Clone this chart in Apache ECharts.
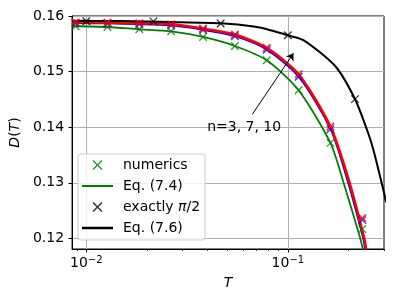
<!DOCTYPE html>
<html><head><meta charset="utf-8">
<script src="https://cdn.jsdelivr.net/npm/echarts@6/dist/echarts.min.js"></script>
<style>html,body{margin:0;padding:0;background:#fff}#c{width:394px;height:304px}</style>
</head><body><div id="c"></div>
<script>
// ---- data ----
const markerT   = [0.00885,0.01274,0.01833,0.02637,0.03795,0.05461,0.07858,0.1131,0.1627,0.2342];
const numGreen  = [0.15815,0.15802,0.15761,0.15725,0.15623,0.15461,0.15204,0.14665,0.13718,0.12167];
const numBlue   = [0.15869,0.15863,0.15851,0.15827,0.15748,0.15635,0.15393,0.14907,0.13964,0.12329];
const numRed    = [0.15887,0.15881,0.15869,0.15851,0.15774,0.15666,0.15425,0.14952,0.14010,0.12365];

const exactT    = [0.01,0.02154,0.04642,0.1,0.2154];
const exactD    = [0.15905,0.15904,0.15866,0.15653,0.14505];

const eqGreenT  = [0.00853,0.01274,0.01833,0.02637,0.03795,0.05461,0.07858,0.1131,0.1627,0.1891,0.2288,0.2359];
const eqGreenD  = [0.15820,0.15802,0.15761,0.15725,0.15623,0.15461,0.15204,0.14665,0.13718,0.1300,0.1200,0.1180];
const eqBlueT   = [0.00853,0.01274,0.01833,0.02637,0.03795,0.05461,0.07858,0.1131,0.1627,0.1988,0.2360,0.2413];
const eqBlueD   = [0.15869,0.15863,0.15851,0.15827,0.15748,0.15635,0.15393,0.14907,0.13964,0.1300,0.1200,0.1180];
const eqRedT    = [0.00853,0.01274,0.01833,0.02637,0.03795,0.05461,0.07858,0.1131,0.1627,0.2025,0.2393,0.2449];
const eqRedD    = [0.15887,0.15881,0.15869,0.15851,0.15774,0.15666,0.15425,0.14952,0.14010,0.1300,0.1200,0.1180];

const eq76T     = [0.00853,0.01489,0.02632,0.04649,0.06921,0.08212,0.1,0.1200,0.1721,0.2161,0.2505,0.2661,0.2981,0.3075];
const eq76D     = [0.15914,0.15908,0.15892,0.15869,0.15806,0.15743,0.15653,0.15563,0.15096,0.14494,0.13892,0.13587,0.12868,0.12652];

const yTicks    = [0.12,0.13,0.14,0.15,0.16];
const xTicks    = [0.01,0.1];
const xMinor    = [0.009,0.02,0.03,0.04,0.05,0.06,0.07,0.08,0.09,0.2,0.3];

const annotText = 'n=3, 7, 10';
const annotPos  = [0.0607,0.1400];
const arrowFrom = [0.0667,0.14234];
const arrowTo   = [0.1067,0.1533];

// ---- chart ----
const F = 'DejaVu Sans';
const XSYM = 'path://M0,0L10,10M10,0L0,10';
const pairs = (xs, ys) => xs.map((x, i) => [x, ys[i]]);
function markers(name, color, ys, bw) {
  return {type:'scatter', name, data:pairs(markerT, ys), symbol:XSYM, symbolSize:7.5,
    itemStyle:{color, borderColor:color, borderWidth:bw}, z:3, silent:true};
}
function curve(name, color, xs, ys, w) {
  return {type:'line', name, data:pairs(xs, ys), symbol:'none', showSymbol:false, smooth:0.25,
    lineStyle:{color, width:w}, itemStyle:{color}, clip:true, z:2, silent:true};
}
const chart = echarts.init(document.getElementById('c'), null, {renderer:'canvas'});
chart.setOption({
  animation:false,
  backgroundColor:'#fff',
  grid:{left:71, top:16, right:10, bottom:55, show:true, borderColor:'#000', borderWidth:1, backgroundColor:'transparent'},
  xAxis:[{
    type:'log', logBase:10, min:0.0085, max:0.3,
    name:'T', nameLocation:'middle', nameGap:27,
    nameTextStyle:{fontFamily:F, fontSize:14, fontStyle:'italic', color:'#000'},
    axisLine:{show:true, lineStyle:{color:'#000', width:1}},
    axisTick:{show:true, inside:false, length:3.5, customValues:xTicks, lineStyle:{color:'#000', width:1}},
    axisLabel:{customValues:xTicks, margin:6, color:'#000', fontFamily:F, fontSize:14,
      formatter: v => '10{s|−' + Math.abs(Math.round(Math.log10(v))) + '}',
      rich:{s:{fontFamily:F, fontSize:10, color:'#000', verticalAlign:'top', padding:[0,0,6,0]}}},
    splitLine:{show:true, lineStyle:{color:'#b0b0b0', width:1}},
    minorTick:{show:false}
  },{
    type:'log', logBase:10, min:0.0085, max:0.3, position:'bottom', gridIndex:0,
    axisLine:{show:false}, axisLabel:{show:false}, splitLine:{show:false},
    axisTick:{show:true, inside:false, length:2, customValues:xMinor, lineStyle:{color:'#000', width:0.8}}
  }],
  yAxis:{
    type:'value', min:0.1181, max:0.16,
    name:'{i|D}({i|T})', nameLocation:'middle', nameGap:46, nameRotate:90,
    nameTextStyle:{fontFamily:F, fontSize:14, color:'#000', rich:{i:{fontFamily:F, fontSize:14, fontStyle:'italic', color:'#000'}}},
    axisLine:{show:true, lineStyle:{color:'#000', width:1}},
    axisTick:{show:true, inside:false, length:3.5, customValues:yTicks, lineStyle:{color:'#000', width:1}},
    axisLabel:{customValues:yTicks, margin:8, color:'#000', fontFamily:F, fontSize:14, formatter: v => v.toFixed(2)},
    splitLine:{show:true, lineStyle:{color:'#b0b0b0', width:1}}
  },
  legend:{
    orient:'vertical', left:78, top:154, padding:[4,5,5,4], itemWidth:31, itemHeight:9, itemGap:7,
    backgroundColor:'rgba(255,255,255,0.8)', borderColor:'#cccccc', borderWidth:1, borderRadius:3,
    selectedMode:false,
    itemStyle:{borderWidth:1.5},
    textStyle:{fontFamily:F, fontSize:14, color:'#000', padding:[0,0,0,5],
      rich:{i:{fontFamily:F, fontSize:14, fontStyle:'italic', color:'#000'}}},
    formatter: n => n === 'exactly π/2' ? 'exactly {i|π}/2' : n,
    data:[
      'numerics',
      {name:'Eq. (7.4)', icon:'path://M0,0H31V2H0Z', itemStyle:{borderWidth:0}},
      'exactly π/2',
      {name:'Eq. (7.6)', icon:'path://M0,0H31V2.5H0Z', itemStyle:{borderWidth:0}}
    ]
  },
  series:[
    markers('numerics', '#008000', numGreen, 1.3),
    curve('Eq. (7.4)', '#008000', eqGreenT, eqGreenD, 1.8),
    markers('numerics n=7', '#0000ff', numBlue, 1.3),
    curve('Eq. (7.4) n=7', '#0000ff', eqBlueT, eqBlueD, 1.5),
    markers('numerics n=10', '#ff0000', numRed, 1.7),
    curve('Eq. (7.4) n=10', '#ff0000', eqRedT, eqRedD, 2.6),
    {type:'scatter', name:'exactly π/2', data:pairs(exactT, exactD), symbol:XSYM, symbolSize:7.5,
      itemStyle:{color:'#000', borderColor:'#000', borderWidth:1.3}, z:3, silent:true},
    curve('Eq. (7.6)', '#000000', eq76T, eq76D, 2),
    {type:'scatter', name:'annot', data:[annotPos], symbolSize:0, silent:true, z:5,
      itemStyle:{color:'#000', opacity:1},
      label:{show:true, position:'inside', formatter:annotText, fontFamily:F, fontSize:14, color:'#000',
        textBorderWidth:0, opacity:1},
      markLine:{silent:true, symbol:['none','arrow'], symbolSize:7, label:{show:false},
        lineStyle:{color:'#000', width:1, type:'solid', opacity:1},
        data:[[{coord:arrowFrom},{coord:arrowTo}]]}}
  ]
});
</script></body></html>
